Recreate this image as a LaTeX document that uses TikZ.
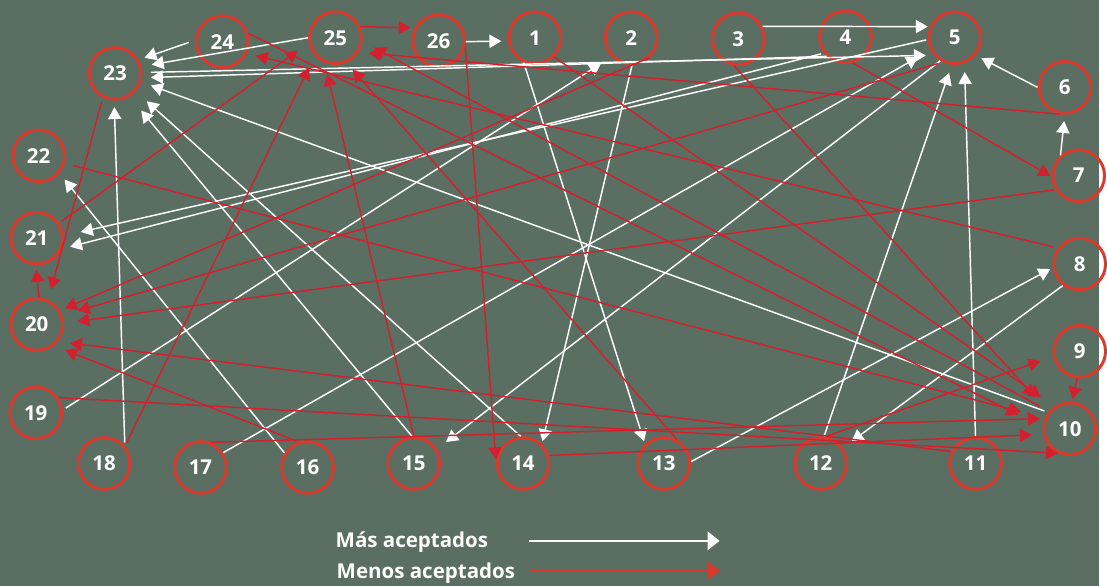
\documentclass[tikz,border=0pt]{standalone}
\usepackage{fontspec}
\setmainfont{Open Sans}
\usetikzlibrary{arrows.meta}
\definecolor{boardgreen}{RGB}{90,111,97}
\definecolor{ringred}{RGB}{217,58,45}
\definecolor{linkred}{RGB}{210,32,46}
\begin{document}
\begin{tikzpicture}[x=0.75pt,y=-0.75pt,
  num/.style={circle,draw=ringred,line width=2.25pt,minimum size=39pt,inner sep=0pt,
    text=white,font=\fontsize{15.5}{18}\selectfont\bfseries},
  more/.style={color=white,line width=1.1pt,-{Triangle[length=9pt,width=10pt]}},
  less/.style={color=linkred,line width=1.1pt,-{Triangle[length=9pt,width=10pt]}},
  legtext/.style={text=white,font=\fontsize{15.5}{18}\selectfont\bfseries,anchor=base west,inner sep=0pt},
  legarrow/.style={line width=1.6pt,-{Triangle[length=9pt,width=14pt]}}]
  \fill[boardgreen] (0,0) rectangle (1107,590);
  \foreach \n/\x/\y in {1/539/38, 2/636/38, 3/744/39, 4/852/37, 5/962/38, 6/1073/88,
    7/1087/177, 8/1088/266, 9/1088/354, 10/1078/432, 11/983/467, 12/827/467,
    13/669/467, 14/527/467, 15/417/467, 16/310/471, 17/202/471, 18/105/467,
    19/36/416, 20/37/327, 21/37/240, 22/39/157, 23/116/74, 24/224/42, 25/338/38, 26/442/41}
    \node[num] (n\n) at (\x,\y) {\n};
  \draw[more, shorten >=1.5pt] (n3.27) -- (n5.156);
  \draw[more, shorten >=4.9pt] (n26.-2) -- (n1.187);
  \draw[more, shorten >=4.9pt] (n6.180) -- (n5.-40);
  \draw[more, shorten >=4.9pt] (n7.132) -- (n6.-90);
  \draw[more, shorten <=4.9pt, shorten >=4.6pt] (n24.177) -- (n23.30);
  \draw[more, shorten >=7.9pt] (n25.180) -- (n23.15);
  \draw[more, shorten <=6.4pt, shorten >=6pt] (n23.2) -- (n5.220);
  \draw[more, shorten >=6.7pt] (n4.226) -- (n23.-9);
  \draw[more, shorten <=2.9pt, shorten >=7.9pt] (n10.143) -- (n23.-18);
  \draw[more, shorten >=11.2pt] (n14.95) -- (n23.-41);
  \draw[more, shorten >=13.7pt] (n15.94) -- (n23.-58);
  \draw[more, shorten <=2.2pt, shorten >=4.9pt] (n18.41) -- (n23.-92);
  \draw[more, shorten >=6pt] (n16.148) -- (n22.-40);
  \draw[more, shorten <=2.6pt, shorten >=9.4pt] (n19.6) -- (n2.-136);
  \draw[more, shorten >=10.6pt] (n17.33) -- (n5.207);
  \draw[more, shorten >=8.6pt] (n5.-122) -- (n15.32);
  \draw[more, shorten <=1pt, shorten >=13.1pt] (n5.184) -- (n21.5);
  \draw[more, shorten <=2pt, shorten >=6.4pt] (n4.217) -- (n21.-23);
  \draw[more, shorten >=6.7pt] (n11.90) -- (n5.-69);
  \draw[more, shorten >=6.4pt] (n12.83) -- (n5.-96);
  \draw[more, shorten >=2pt] (n13.4) -- (n8.188);
  \draw[more, shorten >=7.9pt] (n8.-128) -- (n12.35);
  \draw[more, shorten >=2pt] (n1.-114) -- (n13.134);
  \draw[more, shorten >=2pt] (n2.-88) -- (n14.46);
  \draw[less, shorten >=3pt] (n25.24) -- (n26.152);
  \draw[less, shorten >=1pt] (n26.-12) -- (n14.174);
  \draw[less, shorten >=20.6pt] (n24.18) -- (n10.176);
  \draw[less, shorten <=3.4pt, shorten >=6.9pt] (n8.144) -- (n24.-26);
  \draw[less, shorten >=7.6pt] (n6.-100) -- (n25.-32);
  \draw[less, shorten <=1.9pt, shorten >=10pt] (n21.34) -- (n25.191);
  \draw[less, shorten <=1.9pt, shorten >=10.1pt] (n18.40) -- (n25.221);
  \draw[less, shorten >=8.6pt] (n15.90) -- (n25.247);
  \draw[less, shorten >=7.1pt] (n13.62) -- (n25.-66);
  \draw[less, shorten <=7.5pt, shorten >=9.7pt] (n10.140) -- (n25.-8);
  \draw[less, shorten <=2.6pt, shorten >=8.2pt] (n23.243) -- (n20.65);
  \draw[less, shorten >=4pt] (n2.-46) -- (n20.31);
  \draw[less, shorten <=3.4pt, shorten >=12.1pt] (n5.244) -- (n20.20);
  \draw[less, shorten <=1pt, shorten >=10.1pt] (n7.211) -- (n20.3);
  \draw[less, shorten >=9.2pt] (n11.154) -- (n20.-39);
  \draw[less, shorten <=1.5pt, shorten >=9.2pt] (n16.110) -- (n20.-51);
  \draw[less, shorten >=3.4pt] (n20.85) -- (n21.-92);
  \draw[less, shorten <=5.9pt, shorten >=18.4pt] (n22.-16) -- (n10.157);
  \draw[less] (n19.34) -- (n10.244);
  \draw[less, shorten >=3.4pt] (n17.67) -- (n10.158);
  \draw[less, shorten >=8.5pt] (n14.17) -- (n10.192);
  \draw[less, shorten >=10pt] (n12.80) -- (n9.191);
  \draw[less, shorten >=2pt] (n9.-95) -- (n10.86);
  \draw[less, shorten >=12.2pt] (n1.-45) -- (n10.125);
  \draw[less, shorten >=15.4pt] (n3.-99) -- (n10.142);
  \draw[less, shorten >=1pt] (n4.-74) -- (n7.182);
  \node[legtext] (mas) at (338,552) {Más aceptados};
  \node[legtext] (menos) at (339,583) {Menos aceptados};
  \coordinate (masL) at (533,545);
  \coordinate (masR) at (725,545);
  \coordinate (menosL) at (533,575);
  \coordinate (menosR) at (725,575);
  \draw[legarrow, color=white] (masL) -- (masR);
  \draw[legarrow, color=ringred] (menosL) -- (menosR);
\end{tikzpicture}
\end{document}
